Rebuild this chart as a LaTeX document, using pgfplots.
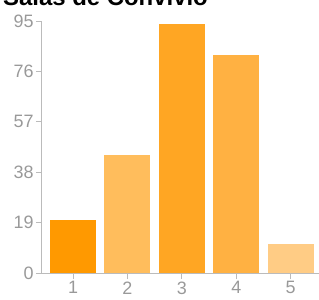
\documentclass[border=0pt]{standalone}
\usepackage{pgfplots}
\pgfplotsset{compat=1.18}
\usepackage{fontspec}
\setmainfont{Liberation Sans}
\definecolor{cA}{HTML}{FF9900}
\definecolor{cB}{HTML}{FFBD5C}
\definecolor{cC}{HTML}{FFA623}
\definecolor{cD}{HTML}{FFB142}
\definecolor{cE}{HTML}{FFCC85}
\definecolor{axg}{HTML}{BBBBBB}
\definecolor{lbl}{HTML}{999999}
\begin{document}
\begin{tikzpicture}[x=1bp,y=1bp]
\begin{axis}[
  at={(0bp,0bp)}, anchor=origin,
  scale only axis, width=277bp, height=252bp,
  xmin=0.43, xmax=5.52, ymin=0, ymax=95,
  axis lines*=left,
  axis line style={draw=axg, line width=1bp},
  xtick={1,2,3,4,5},
  ytick={0,19,38,57,76,95},
  tick align=outside,
  major tick length=6bp,
  tick style={draw=axg, line width=1bp},
  ticklabel style={font=\fontsize{18}{18}\selectfont, text=lbl},
  /pgf/number format/assume math mode=true,
  yticklabel style={xshift=1bp},
  xticklabel style={yshift=1bp},
  clip=false,
]
\pgfplotsinvokeforeach{}{}
\addplot[ybar, bar width=46bp, bar shift=0pt, fill=cA, draw=none] coordinates {(1,20)};
\addplot[ybar, bar width=46bp, bar shift=0pt, fill=cB, draw=none] coordinates {(2,44.5)};
\addplot[ybar, bar width=46bp, bar shift=0pt, fill=cC, draw=none] coordinates {(3,94)};
\addplot[ybar, bar width=46bp, bar shift=0pt, fill=cD, draw=none] coordinates {(4,82)};
\addplot[ybar, bar width=46bp, bar shift=0pt, fill=cE, draw=none] coordinates {(5,11)};
\end{axis}
\node[anchor=base west, inner sep=0pt, font=\fontsize{24}{24}\selectfont\bfseries] at (-39bp,267bp) {Salas de Convívio};
\pgfresetboundingbox
\path[use as bounding box] (-42bp,-27bp) rectangle (277bp,273bp);
\end{tikzpicture}
\end{document}
